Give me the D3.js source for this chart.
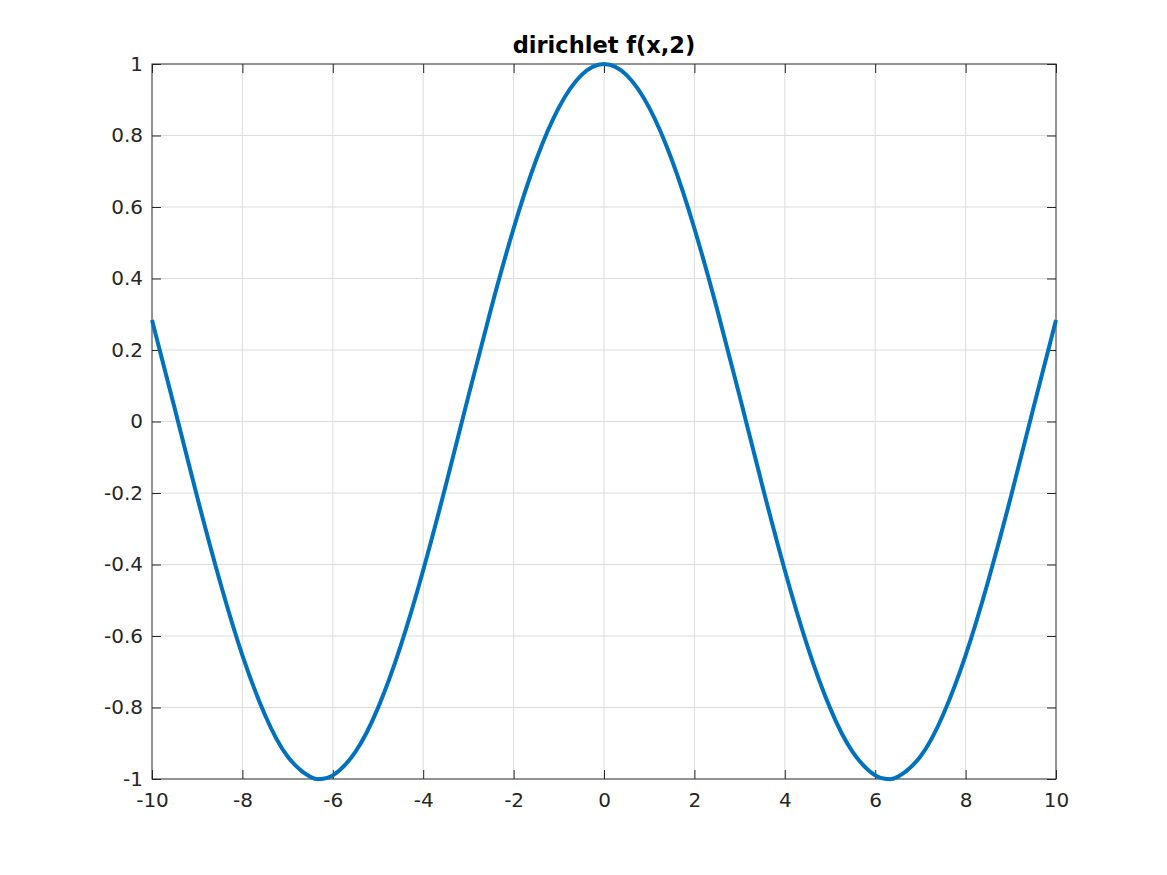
<!DOCTYPE html>
<html>
<head>
<meta charset="utf-8">
<script src="https://cdn.jsdelivr.net/npm/d3@7"></script>
<style>
  body { margin: 0; background: #fff; }
  svg { display: block; font-family: "DejaVu Sans", sans-serif; }
</style>
</head>
<body>
<script>
// values
const xs = [-10, -9.5, -9, -8.5, -8, -7.5, -7, -6.5, -6.28, -6, -5.5, -5, -4.5, -4, -3.5, -3, -2.5, -2, -1.5, -1, -0.5,
  0, 0.5, 1, 1.5, 2, 2.5, 3, 3.5, 4, 4.5, 5, 5.5, 6, 6.28, 6.5, 7, 7.5, 8, 8.5, 9, 9.5, 10];
const ys = [0.284, 0.038, -0.211, -0.446, -0.654, -0.821, -0.937, -0.994, -1.0, -0.99, -0.924, -0.801, -0.628, -0.416, -0.178, 0.071, 0.315, 0.540, 0.732, 0.878, 0.969,
  1.0, 0.969, 0.878, 0.732, 0.540, 0.315, 0.071, -0.178, -0.416, -0.628, -0.801, -0.924, -0.99, -1.0, -0.994, -0.937, -0.821, -0.654, -0.446, -0.211, 0.038, 0.284];
const xTicks = [-10, -8, -6, -4, -2, 0, 2, 4, 6, 8, 10];
const yTicks = [-1, -0.8, -0.6, -0.4, -0.2, 0, 0.2, 0.4, 0.6, 0.8, 1];
const title = "dirichlet f(x,2)";

const w = 1167, h = 875;
const pLeft = 152, pRight = 1056, pTop = 64, pBottom = 779;
const axisColor = "#262626";

const svg = d3.select("body").append("svg")
  .attr("width", w)
  .attr("height", h);

const x = d3.scaleLinear().domain([-10, 10]).range([pLeft, pRight]);
const y = d3.scaleLinear().domain([-1, 1]).range([pBottom, pTop]);

// grid
svg.append("g").selectAll("line").data(xTicks.slice(1, -1)).enter().append("line")
  .attr("x1", d => x(d)).attr("x2", d => x(d))
  .attr("y1", pTop).attr("y2", pBottom)
  .attr("stroke", "#dcdcdc").attr("stroke-width", 1);
svg.append("g").selectAll("line").data(yTicks.slice(1, -1)).enter().append("line")
  .attr("x1", pLeft).attr("x2", pRight)
  .attr("y1", d => y(d)).attr("y2", d => y(d))
  .attr("stroke", "#dcdcdc").attr("stroke-width", 1);

// axes, ticks pointing inward, plain hyphen minus
const fmt = d => String(d);
function style(g) {
  g.select(".domain").remove();
  g.selectAll("line").attr("stroke", axisColor);
  g.selectAll("text").attr("fill", axisColor)
    .style("font-size", "20px").style("font-family", "DejaVu Sans");
}
svg.append("g").attr("transform", `translate(0,${pBottom})`)
  .call(d3.axisBottom(x).tickValues(xTicks).tickSizeInner(-9).tickSizeOuter(0).tickPadding(14).tickFormat(fmt))
  .call(style);
svg.append("g").attr("transform", `translate(0,${pTop})`)
  .call(d3.axisTop(x).tickValues(xTicks).tickSizeInner(-9).tickSizeOuter(0).tickFormat(""))
  .call(style);
svg.append("g").attr("transform", `translate(${pLeft},0)`)
  .call(d3.axisLeft(y).tickValues(yTicks).tickSizeInner(-9).tickSizeOuter(0).tickPadding(9).tickFormat(fmt))
  .call(style);
svg.append("g").attr("transform", `translate(${pRight},0)`)
  .call(d3.axisRight(y).tickValues(yTicks).tickSizeInner(-9).tickSizeOuter(0).tickFormat(""))
  .call(style);

svg.append("rect")
  .attr("x", pLeft).attr("y", pTop)
  .attr("width", pRight - pLeft).attr("height", pBottom - pTop)
  .attr("fill", "none").attr("stroke", axisColor).attr("stroke-width", 1);

// curve
const line = d3.line()
  .x((d, i) => x(xs[i]))
  .y(d => y(d))
  .curve(d3.curveNatural);
svg.append("path")
  .datum(ys)
  .attr("d", line)
  .attr("fill", "none")
  .attr("stroke", "#0072bd")
  .attr("stroke-width", 4);

svg.append("text")
  .attr("x", (pLeft + pRight) / 2)
  .attr("y", 53)
  .attr("text-anchor", "middle")
  .style("font-family", "DejaVu Sans")
  .style("font-weight", "bold")
  .style("font-size", "22.5px")
  .attr("fill", "#000")
  .text(title);
</script>
</body>
</html>
